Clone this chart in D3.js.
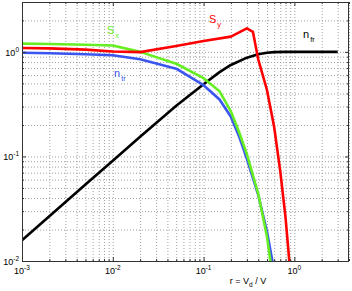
<!DOCTYPE html>
<html>
<head>
<meta charset="utf-8">
<script src="https://cdn.jsdelivr.net/npm/d3@7"></script>
<style>
  body { margin: 0; background: #fff; }
  svg text { font-family: "Liberation Sans", Arial, sans-serif; }
</style>
</head>
<body>
<svg id="chart"></svg>
<script>
// Data
const rFr = [0.001, 0.002, 0.005, 0.01, 0.02, 0.05, 0.1, 0.15, 0.2, 0.3, 0.4, 0.5, 0.6, 0.8, 1, 2, 3];
const nFr = [0.0158, 0.0268, 0.054, 0.091, 0.154, 0.305, 0.49, 0.64, 0.75, 0.88, 0.95, 0.98, 0.995, 1, 1, 1, 1];

const rS = [0.001, 0.002, 0.005, 0.01, 0.02, 0.05, 0.1, 0.15, 0.2, 0.25, 0.3, 0.4, 0.5, 0.6];
const sX = [1.2, 1.19, 1.17, 1.15, 1.0, 0.77, 0.56, 0.42, 0.27, 0.165, 0.105, 0.044, 0.017, 0.0055];
const nTr = [0.98, 0.97, 0.95, 0.93, 0.85, 0.69, 0.48, 0.35, 0.24, 0.15, 0.095, 0.043, 0.019, 0.008];

const rSy = [0.001, 0.002, 0.005, 0.01, 0.02, 0.05, 0.1, 0.2, 0.3, 0.35, 0.4, 0.5, 0.6, 0.7, 0.8, 0.9];
const sY = [1.09, 1.08, 1.05, 1.01, 0.995, 1.14, 1.27, 1.4, 1.68, 1.55, 0.85, 0.43, 0.19, 0.072, 0.026, 0.008];

const xMajor = [1e-3, 1e-2, 1e-1, 1];
const xExp = ["-3", "-2", "-1", "0"];
const yMajor = [1e-2, 1e-1, 1];
const yExp = ["-2", "-1", "0"];

// Dimensions (plot box)
var width = 352, height = 291;
var pL = 22, pR = 349, pT = 2, pB = 261;

var svg = d3.select("#chart").attr("width", width).attr("height", height);

var x = d3.scaleLog().domain([1e-3, 4]).range([pL, pR]);
var y = d3.scaleLog().domain([1e-2, 3]).range([pB, pT]);

// 1..9 times each decade, inside the domain
function decadeSteps(lo, hi) {
    var out = [];
    for (var e = Math.floor(Math.log10(lo)); e <= Math.ceil(Math.log10(hi)); e++) {
        for (var m = 1; m < 10; m++) {
            var v = m * Math.pow(10, e);
            if (v >= lo * 0.999 && v <= hi * 1.001) out.push(v);
        }
    }
    return out;
}
var xAll = decadeSteps(1e-3, 4);
var yAll = decadeSteps(1e-2, 3);

// Grid (dotted)
var grid = svg.append("g").attr("class", "grid");
grid.append("g")
    .attr("transform", "translate(0," + pB + ")")
    .call(d3.axisBottom(x).tickValues(xAll).tickSize(-(pB - pT)).tickFormat(""))
    .call(g => g.select(".domain").remove());
grid.append("g")
    .attr("transform", "translate(" + pL + ",0)")
    .call(d3.axisLeft(y).tickValues(yAll).tickSize(-(pR - pL)).tickFormat(""))
    .call(g => g.select(".domain").remove());
grid.selectAll("line")
    .attr("stroke", "#a0a0a0")
    .attr("stroke-width", 1)
    .attr("stroke-dasharray", "1,2");

// Curves
var line = d3.line()
    .x(d => x(d[0]))
    .y(d => y(d[1]));

svg.append("clipPath").attr("id", "clip")
    .append("rect").attr("x", pL).attr("y", pT)
    .attr("width", pR - pL).attr("height", pB - pT);

var plot = svg.append("g").attr("clip-path", "url(#clip)");

var series = [
    {r: rFr, v: nFr, color: "#000000"},
    {r: rS, v: nTr, color: "#3a55f0"},
    {r: rS, v: sX, color: "#66ee22"},
    {r: rSy, v: sY, color: "#ff0000"}
];

plot.selectAll("path")
    .data(series)
    .enter()
    .append("path")
    .attr("d", s => line(s.r.map((r, i) => [r, s.v[i]])))
    .attr("fill", "none")
    .attr("stroke", s => s.color)
    .attr("stroke-width", 2.6)
    .attr("stroke-linejoin", "round");

// Axes box with inside ticks
var axisColor = "#333";
function styleAxis(g) {
    g.select(".domain").remove();
    g.selectAll("line").attr("stroke", axisColor);
}
var xMinor = xAll.filter(v => xMajor.indexOf(v) < 0);
var yMinor = yAll.filter(v => yMajor.indexOf(v) < 0);

[[pB, d3.axisBottom], [pT, d3.axisTop]].forEach(function (a) {
    svg.append("g").attr("transform", "translate(0," + a[0] + ")")
        .call(a[1](x).tickValues(xMinor).tickSize(-2).tickFormat(""))
        .call(styleAxis);
    svg.append("g").attr("transform", "translate(0," + a[0] + ")")
        .call(a[1](x).tickValues(xMajor).tickSize(-4).tickFormat(""))
        .call(styleAxis);
});
[[pL, d3.axisLeft], [pR, d3.axisRight]].forEach(function (a) {
    svg.append("g").attr("transform", "translate(" + a[0] + ",0)")
        .call(a[1](y).tickValues(yMinor).tickSize(-2).tickFormat(""))
        .call(styleAxis);
    svg.append("g").attr("transform", "translate(" + a[0] + ",0)")
        .call(a[1](y).tickValues(yMajor).tickSize(-4).tickFormat(""))
        .call(styleAxis);
});

svg.append("rect")
    .attr("x", pL + 0.5).attr("y", pT + 0.5)
    .attr("width", pR - pL - 1).attr("height", pB - pT)
    .attr("fill", "none")
    .attr("stroke", axisColor)
    .attr("stroke-width", 1);

// Tick labels: 10^n
var xLab = svg.append("g").selectAll("text")
    .data(xMajor)
    .enter()
    .append("text")
    .attr("x", d => x(d))
    .attr("y", pB + 13)
    .attr("text-anchor", "middle")
    .attr("font-size", 9)
    .attr("fill", "#000");
xLab.append("tspan").text("10");
xLab.append("tspan").attr("dy", -4).attr("font-size", 6.5).text((d, i) => xExp[i]);

var yLab = svg.append("g").selectAll("text")
    .data(yMajor)
    .enter()
    .append("text")
    .attr("x", pL - 3)
    .attr("y", d => y(d) + 4)
    .attr("text-anchor", "end")
    .attr("font-size", 9)
    .attr("fill", "#000");
yLab.append("tspan").text("10");
yLab.append("tspan").attr("dy", -4).attr("font-size", 6.5).text((d, i) => yExp[i]);

// X label
var xl = svg.append("text")
    .attr("x", 248)
    .attr("y", 284)
    .attr("text-anchor", "middle")
    .attr("font-size", 9)
    .attr("fill", "#000");
xl.append("tspan").text("r = V");
xl.append("tspan").attr("dy", 3).attr("font-size", 6.5).text("d");
xl.append("tspan").attr("dy", -3).text(" / V");

// Curve labels
var labels = [
    {x: 107, y: 34, main: "S", sub: "x", color: "#66ee22"},
    {x: 209, y: 23, main: "S", sub: "y", color: "#ff0000"},
    {x: 114, y: 77, main: "n", sub: "tr", color: "#3a55f0"},
    {x: 303, y: 38, main: "n", sub: "fr", color: "#000000"}
];
labels.forEach(function (l) {
    var t = svg.append("text")
        .attr("x", l.x).attr("y", l.y)
        .attr("font-size", 11)
        .attr("fill", l.color);
    t.append("tspan").text(l.main);
    t.append("tspan").attr("dy", 4).attr("dx", 1).attr("font-size", 7.5).text(l.sub);
});
</script>
</body>
</html>
